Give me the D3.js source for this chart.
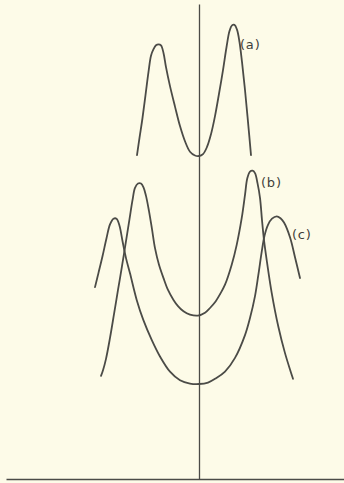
<!DOCTYPE html>
<html>
<head>
<meta charset="utf-8">
<script src="https://cdn.jsdelivr.net/npm/d3@7"></script>
<style>
  html, body { margin: 0; padding: 0; background: #fdfbe8; }
  svg { display: block; }
</style>
</head>
<body>
<svg id="chart" width="344" height="483"></svg>
<script>
// Response curves: [offset, response] pairs for each case
const curveA = [
  [-6.2, 6.82], [-5.95, 7.18], [-5.65, 7.60], [-5.35, 8.08], [-5.05, 8.57],
  [-4.8, 8.91], [-4.55, 9.05], [-4.3, 9.13], [-4.05, 9.15], [-3.8, 9.13],
  [-3.55, 8.97], [-3.3, 8.67], [-2.9, 8.27], [-2.4, 7.84], [-1.9, 7.43],
  [-1.4, 7.11], [-0.9, 6.89], [-0.4, 6.81], [0, 6.80], [0.4, 6.84],
  [0.8, 6.99], [1.2, 7.26], [1.6, 7.64], [2.0, 8.11], [2.4, 8.61],
  [2.75, 9.09], [3.05, 9.43], [3.3, 9.55], [3.55, 9.56], [3.8, 9.46],
  [4.05, 9.20], [4.3, 8.78], [4.6, 8.19], [4.9, 7.52], [5.2, 6.82]
];
const curveB = [
  [-9.8, 2.17], [-9.6, 2.29], [-9.3, 2.53], [-8.9, 2.97], [-8.5, 3.47],
  [-8.1, 3.98], [-7.7, 4.48], [-7.3, 5.01], [-6.95, 5.47], [-6.65, 5.87],
  [-6.4, 6.13], [-6.1, 6.22], [-5.8, 6.22], [-5.55, 6.14], [-5.3, 5.96],
  [-5.0, 5.64], [-4.7, 5.26], [-4.4, 4.86], [-4.0, 4.51], [-3.55, 4.23],
  [-3.1, 3.98], [-2.55, 3.77], [-2.1, 3.64], [-1.55, 3.53], [-0.9, 3.46],
  [-0.1, 3.44], [0.6, 3.50], [1.1, 3.60], [1.6, 3.72], [2.1, 3.89],
  [2.6, 4.09], [3.27, 4.51], [3.77, 4.93], [4.27, 5.49], [4.6, 5.98],
  [4.83, 6.33], [5.1, 6.47], [5.35, 6.49], [5.6, 6.44], [5.85, 6.23],
  [6.1, 5.92], [6.3, 5.45], [6.5, 5.03], [6.77, 4.61], [7.27, 3.92],
  [7.93, 3.21], [8.6, 2.65], [9.4, 2.11]
];
const curveC = [
  [-10.4, 4.04], [-10.05, 4.34], [-9.65, 4.69], [-9.25, 5.07], [-8.9, 5.36],
  [-8.55, 5.48], [-8.25, 5.48], [-7.95, 5.33], [-7.65, 5.01], [-7.3, 4.65],
  [-6.9, 4.33], [-6.23, 3.77], [-5.57, 3.35], [-4.73, 2.93], [-3.9, 2.58],
  [-2.9, 2.26], [-1.9, 2.08], [-0.9, 2.01], [0, 2.00], [0.9, 2.03],
  [1.7, 2.12], [2.6, 2.26], [3.6, 2.55], [4.6, 3.03], [5.1, 3.39],
  [5.6, 3.85], [5.93, 4.29], [6.27, 4.78], [6.55, 5.12], [6.9, 5.35],
  [7.3, 5.48], [7.77, 5.53], [8.15, 5.49], [8.5, 5.40], [9.1, 5.09],
  [9.6, 4.67], [10.1, 4.23]
];
const curveLabels = ["(a)", "(b)", "(c)"];
// where each label sits, in data units
const labelAnchors = [[4.1, 9.13], [6.2, 6.22], [9.3, 5.12]];

const svg = d3.select("#chart");

const x = d3.scaleLinear().domain([-19.3, 14.5]).range([6, 344]);
const y = d3.scaleLinear().domain([0, 10]).range([479, 4]);

const ink = "#4b4b47";

// baseline
svg.append("g")
  .attr("transform", `translate(0,${y(0)})`)
  .call(d3.axisBottom(x).ticks(0).tickSizeOuter(0))
  .call(g => g.select(".domain").attr("stroke", ink).attr("stroke-width", 1.4));

// central vertical axis
svg.append("g")
  .attr("transform", `translate(${x(0)},0)`)
  .call(d3.axisLeft(y).ticks(0).tickSizeOuter(0))
  .call(g => g.select(".domain").attr("stroke", ink).attr("stroke-width", 1.3));

const line = d3.line()
  .x(d => x(d[0]))
  .y(d => y(d[1]))
  .curve(d3.curveCatmullRom.alpha(0.5));

[curveA, curveB, curveC].forEach(pts => {
  svg.append("path")
    .datum(pts)
    .attr("d", line)
    .attr("fill", "none")
    .attr("stroke", ink)
    .attr("stroke-width", 1.8)
    .attr("stroke-linecap", "round")
    .attr("stroke-linejoin", "round");
});

svg.selectAll("text.lbl")
  .data(curveLabels)
  .join("text")
  .attr("class", "lbl")
  .attr("x", (d, i) => x(labelAnchors[i][0]))
  .attr("y", (d, i) => y(labelAnchors[i][1]))
  .attr("dominant-baseline", "middle")
  .attr("font-family", "DejaVu Sans, sans-serif")
  .attr("font-size", 13)
  .attr("letter-spacing", 0.8)
  .attr("fill", "#3f3f3b")
  .text(d => d);
</script>
</body>
</html>
